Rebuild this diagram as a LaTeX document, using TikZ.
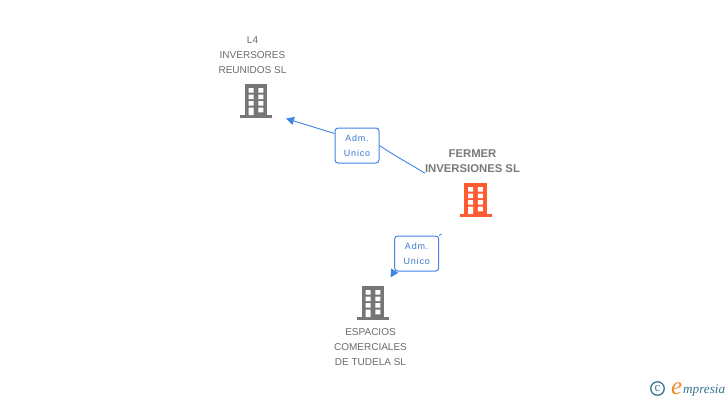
\documentclass[tikz,border=0pt]{standalone}
\usepackage{fontspec}
\setmainfont{Liberation Sans}
\newfontfamily\logofont{Liberation Serif}
\usetikzlibrary{arrows.meta}
\definecolor{grayicon}{HTML}{767676}
\definecolor{orangeicon}{HTML}{FF5B33}
\definecolor{linkblue}{HTML}{3F84E5}
\definecolor{logoteal}{HTML}{35788F}
\definecolor{logoorange}{HTML}{F08A24}
\tikzset{
  x=1pt,y=-1pt,
  company/.style={inner sep=0pt,align=center,text=black!58,font=\fontsize{10}{15}\selectfont},
  companybold/.style={company,text=black!52,font=\fontsize{11.3}{15}\selectfont\bfseries},
  rolebox/.style={draw=linkblue,fill=white,rounded corners=3pt,line width=1pt,minimum width=44pt,minimum height=35pt,inner sep=0pt,align=center,text=linkblue!90!black,font=\fontsize{9}{15}\selectfont\addfontfeature{LetterSpace=9}},
  link/.style={draw=linkblue,line width=0.9pt},
  linkarrow/.style={link,-{Triangle[length=8pt,width=8pt]}},
  pics/building/.style={code={
    \fill[#1] (-11.2,-2.8) rectangle (11.2,-34);
    \fill[#1] (-16,0) rectangle (16,-3);
    \fill[white] (-7.3,-29.8) rectangle (-2.3,-25.4) (2.3,-29.8) rectangle (7.3,-25.4)
                 (-7.3,-23.4) rectangle (-2.3,-19) (2.3,-23.4) rectangle (7.3,-19)
                 (-7.3,-16.8) rectangle (-2.3,-12.4) (2.3,-16.8) rectangle (7.3,-12.4)
                 (-7.3,-10.3) rectangle (-2.3,-2.8) (2.3,-10.3) rectangle (7.3,-5.7);
  }}
}
\begin{document}
\begin{tikzpicture}
\useasboundingbox (0,0) rectangle (728,400);
\fill[white] (0,0) rectangle (728,400);
\pic at (256,118) {building=grayicon};
\pic at (475.5,217) {building=orangeicon};
\pic at (373,320) {building=grayicon};
\node[company] (l4) at (252.5,55.5) {L4\\INVERSORES\\REUNIDOS SL};
\node[companybold] (fermer) at (472.5,161.5) {FERMER\\INVERSIONES SL};
\node[company] (espacios) at (370.5,347.5) {ESPACIOS\\COMERCIALES\\DE TUDELA SL};
\node[rolebox] (admone) at (357,145.5) {Adm.\\Unico};
\node[rolebox] (admtwo) at (416.7,253.5) {Adm.\\Unico};
\coordinate (lfour) at (286,118.5);
\coordinate (fermerout) at (441.5,234);
\coordinate (espin) at (390.5,277.5);
\draw[link] (fermer.south west) .. controls (410,164) and (395,156) .. (admone.east);
\draw[linkarrow] (admone.west |- 0,133.5) -- (lfour);
\draw[link] (fermerout) -- (admtwo.north east);
\draw[linkarrow] (admtwo.south west) -- (espin);
% logo
\node[draw=logoteal,line width=1.3pt,circle,minimum size=13.5pt,inner sep=0pt,text=logoteal,font=\logofont\fontsize{13}{13}\selectfont] (copy) at (657.5,388.5) {\raisebox{1pt}{c}};
\node[inner sep=0pt,anchor=base west,text=logoorange,font=\logofont\itshape\fontsize{25}{25}\selectfont] (logoe) at (671,394.5) {e};
\node[inner sep=0pt,anchor=base west,text=logoteal,font=\logofont\itshape\fontsize{13.2}{14}\selectfont] (logotext) at (683,393.5) {mpresia};
\end{tikzpicture}
\end{document}
